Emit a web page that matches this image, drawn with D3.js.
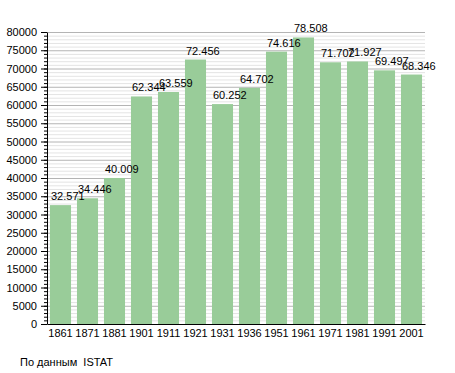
<!DOCTYPE html>
<html>
<head>
<meta charset="utf-8">
<script src="https://cdn.jsdelivr.net/npm/d3@7"></script>
<style>
  body { margin: 0; background: #fff; }
  text { font-family: "Liberation Sans", Arial, sans-serif; }
</style>
</head>
<body>
<script>
// Data
const years = ["1861", "1871", "1881", "1901", "1911", "1921", "1931", "1936",
               "1951", "1961", "1971", "1981", "1991", "2001"];
const population = [32571, 34446, 40009, 62344, 63559, 72456, 60252, 64702,
                    74616, 78508, 71702, 71927, 69497, 68346];
const yTicks = d3.range(0, 80001, 5000);
const sourceNote = "По данным  ISTAT";

const canvWidth = 455, canvHeight = 373;
const svg = d3.select("body").append("svg")
    .attr("width", canvWidth)
    .attr("height", canvHeight);

const margin = {top: 32, right: 30, bottom: 49, left: 47};
const width = canvWidth - margin.left - margin.right;
const height = canvHeight - margin.top - margin.bottom;

const chart = svg.append("g")
    .attr("transform", "translate(" + margin.left + "," + margin.top + ")");

const xScale = d3.scaleBand()
    .domain(years)
    .range([0, width])
    .paddingInner(0.22)
    .paddingOuter(0.11);

const yScale = d3.scaleLinear()
    .domain([0, 80000])
    .range([height, 0]);

// minor gridlines every 1000
chart.append("g").selectAll("line")
    .data(d3.range(1000, 80001, 1000).filter(d => d % 5000 !== 0))
    .enter().append("line")
    .attr("x1", 0).attr("x2", width)
    .attr("y1", d => yScale(d) + 0.5).attr("y2", d => yScale(d) + 0.5)
    .attr("stroke", "#e4e4e4");

// major gridlines every 5000
chart.append("g").selectAll("line")
    .data(yTicks.filter(d => d > 0))
    .enter().append("line")
    .attr("x1", 0).attr("x2", width)
    .attr("y1", d => yScale(d) + 0.5).attr("y2", d => yScale(d) + 0.5)
    .attr("stroke", "#b4b4b4");

// bars
chart.selectAll("rect.bar")
    .data(years)
    .enter().append("rect")
    .attr("class", "bar")
    .attr("x", d => xScale(d))
    .attr("width", xScale.bandwidth())
    .attr("y", (d, i) => yScale(population[i]))
    .attr("height", (d, i) => height - yScale(population[i]))
    .attr("fill", "#99cc99");

// value labels, left aligned on the bar
const fmt = d3.formatLocale({decimal: ",", thousands: ".", grouping: [3], currency: ["", ""]}).format(",");
chart.selectAll("text.value")
    .data(years)
    .enter().append("text")
    .attr("class", "value")
    .attr("x", d => xScale(d) + 1)
    .attr("y", (d, i) => yScale(population[i]) - 5)
    .attr("font-size", "11px")
    .attr("fill", "#000")
    .text((d, i) => fmt(population[i]));

// y axis: minor ticks, then major ticks with labels
const yAxisG = chart.append("g");
yAxisG.append("g")
    .call(d3.axisLeft(yScale).tickValues(d3.range(0, 80001, 1000)).tickSize(3).tickFormat(""))
    .call(g => g.select(".domain").remove());
yAxisG.append("g")
    .call(d3.axisLeft(yScale).tickValues(yTicks).tickSize(6).tickSizeOuter(0).tickPadding(4).tickFormat(d3.format("d")))
    .call(g => g.selectAll("text").attr("font-size", "11px").attr("font-family", "Liberation Sans, Arial, sans-serif"));

// x axis
chart.append("g")
    .attr("transform", "translate(0," + height + ")")
    .call(d3.axisBottom(xScale).tickSize(0).tickSizeOuter(0).tickPadding(5))
    .call(g => g.selectAll("text").attr("font-size", "11px").attr("font-family", "Liberation Sans, Arial, sans-serif"));

// source note
svg.append("text")
    .attr("x", 20)
    .attr("y", 366)
    .attr("font-size", "11px")
    .style("white-space", "pre")
    .text(sourceNote);
</script>
</body>
</html>
